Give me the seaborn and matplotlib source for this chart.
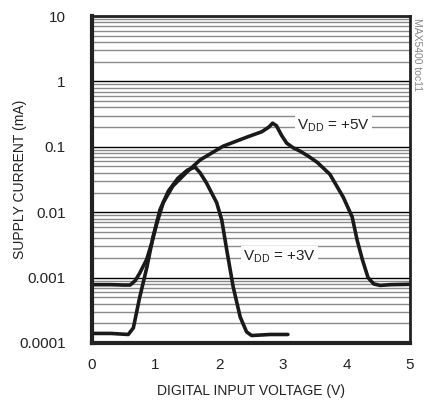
import numpy as np
import pandas as pd
import matplotlib as mpl
import matplotlib.pyplot as plt
import seaborn as sns
from matplotlib.ticker import LogLocator, FixedLocator

sns.set_style("white")
mpl.rcParams['font.family'] = ['Liberation Sans', 'DejaVu Sans']
mpl.rcParams['figure.dpi'] = 100

# DATA
v5_x = [0.0, 0.3, 0.5, 0.60, 0.68, 0.75, 0.86, 0.94, 1.02, 1.12, 1.27, 1.49, 1.70, 2.06, 2.43,
        2.67, 2.78, 2.84, 2.90, 2.98, 3.06, 3.16, 3.27, 3.40, 3.54, 3.74, 3.95, 4.09, 4.17,
        4.25, 4.34, 4.43, 4.53, 4.7, 5.0]
v5_y = [0.00078, 0.00078, 0.00077, 0.00077, 0.0009, 0.00117, 0.0019, 0.0034, 0.0068, 0.014,
        0.025, 0.041, 0.063, 0.102, 0.14, 0.17, 0.2, 0.23, 0.21, 0.15, 0.114, 0.097, 0.086,
        0.072, 0.058, 0.038, 0.017, 0.0085, 0.0037, 0.0019, 0.001, 0.0008, 0.00076, 0.00078,
        0.00079]

v3_x = [0.0, 0.3, 0.57, 0.65, 0.75, 0.86, 0.96, 1.07, 1.2, 1.35, 1.5, 1.62, 1.70, 1.80, 1.96,
        2.04, 2.12, 2.22, 2.33, 2.43, 2.51, 2.8, 3.08]
v3_y = [0.00014, 0.00014, 0.000135, 0.00017, 0.0005, 0.0014, 0.0042, 0.011, 0.021, 0.033,
        0.044, 0.049, 0.04, 0.028, 0.014, 0.0076, 0.0026, 0.00072, 0.00025, 0.000148, 0.00013,
        0.000135, 0.000135]

df = pd.concat([
    pd.DataFrame({"v": v5_x, "i": v5_y, "supply": "+5V"}),
    pd.DataFrame({"v": v3_x, "i": v3_y, "supply": "+3V"}),
])

fig = plt.figure(figsize=(4.27, 4.0))
ax = fig.add_axes([92/427, 57/400, 318/427, 327/400])

ax.set_yscale("log")
ax.set_xlim(0, 5)
ax.set_ylim(0.0001, 10)

# grid
ax.yaxis.set_minor_locator(LogLocator(base=10, subs=np.arange(2, 10)))
ax.grid(True, which="minor", axis="y", color="#8a8a8a", linewidth=1.0)
ax.grid(True, which="major", axis="y", color="black", linewidth=1.0)
ax.xaxis.set_minor_locator(FixedLocator([1, 2, 3, 4]))
ax.grid(True, which="minor", axis="x", color="#333333", linewidth=1.0)
ax.set_axisbelow(True)

sns.lineplot(data=df, x="v", y="i", units="supply", estimator=None, sort=False,
             color="#1a1a1a", linewidth=2.6, ax=ax, legend=False)
for ln in ax.lines:
    ln.set_solid_joinstyle("round")
    ln.set_solid_capstyle("round")

ax.set_xticks([0, 1, 2, 3, 4, 5])
ax.set_xticklabels(["0", "1", "2", "3", "4", "5"])
ax.set_yticks([0.0001, 0.001, 0.01, 0.1, 1, 10])
ax.set_yticklabels(["0.0001", "0.001", "0.01", "0.1", "1", "10"])
ax.tick_params(axis="both", which="both", length=0, labelsize=11, colors="#222222")
ax.tick_params(axis="x", pad=11)
ax.tick_params(axis="y", pad=19)

for s in ["left", "bottom"]:
    ax.spines[s].set_linewidth(3)
for s in ["top", "right"]:
    ax.spines[s].set_linewidth(2)
for s in ax.spines.values():
    s.set_color("#222222")

ax.set_xlabel("DIGITAL INPUT VOLTAGE (V)", fontsize=10, color="#222222")
ax.set_ylabel("SUPPLY CURRENT (mA)", fontsize=10, color="#222222")
ax.xaxis.set_label_coords(0.5, -0.125)
ax.yaxis.set_label_coords(-0.205, 0.5)

box = dict(facecolor="white", edgecolor="none", pad=1.5)
ax.text(3.8, 0.21, r"V$_{\mathregular{DD}}$ = +5V", fontsize=11, color="#222222",
        ha="center", va="center", bbox=box)
ax.text(2.95, 0.0021, r"V$_{\mathregular{DD}}$ = +3V", fontsize=11, color="#222222",
        ha="center", va="center", bbox=box)

fig.text(0.977, 0.955, "MAX5400 toc11", rotation=270, fontsize=7.5, color="#888888",
         ha="center", va="top")

plt.savefig("out.png", dpi=100)
plt.close()
